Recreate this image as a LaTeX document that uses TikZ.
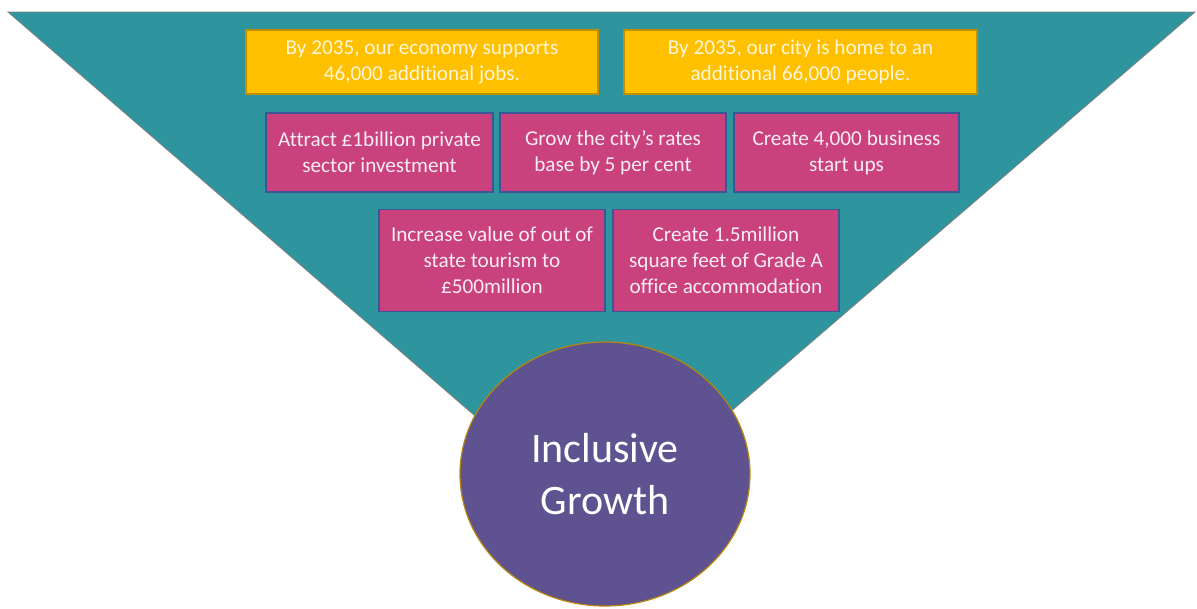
\documentclass[tikz,border=0pt]{standalone}
\usepackage{fontspec}
\setmainfont[Ligatures=NoCommon]{Carlito}
\usepackage{tikz}
\usetikzlibrary{shapes.geometric}

\definecolor{funnel}{RGB}{46,149,158}
\definecolor{goalfill}{RGB}{255,192,0}
\definecolor{goalline}{RGB}{191,144,0}
\definecolor{aimfill}{RGB}{201,65,125}
\definecolor{aimline}{RGB}{61,86,150}
\definecolor{corefill}{RGB}{94,82,144}
\definecolor{coreline}{RGB}{184,134,11}

\tikzset{
  goal/.style={draw=goalline, line width=1.2pt, fill=goalfill, text=white, text opacity=0.85,
    align=center, inner sep=0pt, font=\fontsize{21.2}{26}\selectfont},
  aim/.style={draw=aimline, line width=1.2pt, fill=aimfill, text=white, text opacity=0.9,
    align=center, inner sep=0pt, font=\fontsize{21.2}{26}\selectfont}
}

\begin{document}
\begin{tikzpicture}[x=1pt,y=-1pt]
  \useasboundingbox (0,0) rectangle (1197,608);
  \draw [gray, line width=0.8pt, fill=funnel] (8,12) -- (1195,12) -- (600,524) -- cycle;
  \node [goal, minimum width=352pt, minimum height=64pt] (jobs) at (422,62) {By 2035, our economy supports\\46,000 additional jobs.};
  \node [goal, minimum width=353pt, minimum height=64pt] (people) at (800.5,62) {By 2035, our city is home to an\\additional 66,000 people.};
  \node [aim, minimum width=227pt, minimum height=79pt] (invest) at (379.5,152.5) {Attract £1billion private\\sector investment};
  \node [aim, minimum width=226pt, minimum height=79pt] (rates) at (613,152.5) {Grow the city’s rates\\base by 5 per cent};
  \node [aim, minimum width=225pt, minimum height=79pt] (startups) at (846.5,152.5) {Create 4,000 business\\start ups};
  \node [aim, minimum width=226pt, minimum height=102pt] (tourism) at (492,260.5) {Increase value of out of\\state tourism to\\£500million};
  \node [aim, minimum width=226pt, minimum height=102pt] (office) at (726,260.5) {Create 1.5million\\square feet of Grade A\\office accommodation};
  \node [ellipse, draw=coreline, line width=1.2pt, fill=corefill, text=white,
    minimum width=290pt, minimum height=264pt, inner sep=0pt, align=center,
    font=\fontsize{42}{52}\selectfont] (growth) at (605,474) {Inclusive\\Growth};
\end{tikzpicture}
\end{document}
